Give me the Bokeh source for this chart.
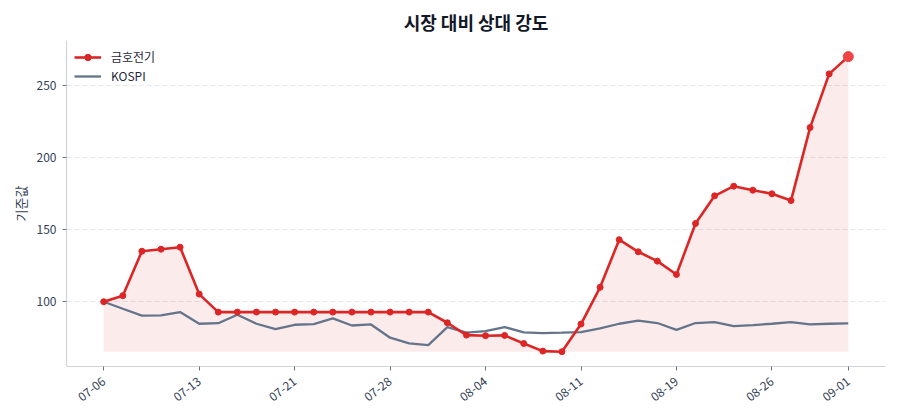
import math
from bokeh.plotting import figure
from bokeh.models import FixedTicker, Range1d, Legend, LegendItem, Title
from bokeh.embed import file_html
from bokeh.resources import INLINE

dates = ["07-06", "07-07", "07-08", "07-09", "07-10",
         "07-13", "07-14", "07-15", "07-16", "07-17",
         "07-21", "07-22", "07-23", "07-24", "07-27",
         "07-28", "07-29", "07-30", "07-31", "08-03",
         "08-04", "08-05", "08-06", "08-07", "08-10",
         "08-11", "08-12", "08-13", "08-14", "08-18",
         "08-19", "08-20", "08-21", "08-24", "08-25",
         "08-26", "08-27", "08-28", "08-31", "09-01"]

stock = [100.0, 104.2, 135.1, 136.5, 137.9, 105.3, 92.8, 92.8, 92.8, 92.8,
         92.8, 92.8, 92.8, 92.8, 92.8, 92.8, 92.8, 92.8, 85.4, 76.8,
         76.4, 76.6, 71.0, 65.7, 65.3, 84.5, 110.0, 143.1, 134.7, 128.2,
         118.9, 154.4, 173.6, 180.3, 177.5, 175.0, 170.3, 221.0, 258.3, 270.3]

kospi = [100.0, 95.1, 90.3, 90.5, 92.8, 84.7, 85.1, 91.0, 84.7, 81.0,
         84.0, 84.5, 88.4, 83.5, 84.2, 75.0, 71.0, 69.9, 82.4, 78.5,
         79.6, 82.4, 78.7, 78.2, 78.5, 78.9, 81.5, 84.7, 86.8, 85.2,
         80.5, 85.2, 85.9, 83.1, 83.8, 84.7, 85.9, 84.2, 84.7, 84.9]

stock_name = "금호전기"
index_name = "KOSPI"
title_text = "시장 대비 상대 강도"
y_label = "기준값"
y_ticks = [100, 150, 200, 250]
x_tick_idx = [0, 5, 10, 15, 20, 25, 30, 35, 39]

FONT = "Noto Sans CJK KR"
RED = "#dc2626"
SLATE = "#64748b"
TXT = "#334155"

x = list(range(len(stock)))
base = min(stock)

p = figure(width=900, height=420, output_backend="svg", toolbar_location=None,
           x_range=Range1d(-1.95, len(stock) - 1 + 1.95),
           y_range=Range1d(55.0, 281.5),
           min_border_left=66, min_border_right=15, min_border_top=40,
           min_border_bottom=54)
p.title = Title(text=title_text, align="center", text_font=FONT,
                text_font_size="18px", text_font_style="bold",
                text_color="#111827", standoff=12)
p.outline_line_color = None
p.background_fill_color = "white"
p.border_fill_color = "white"

p.varea(x=x, y1=[base] * len(x), y2=stock, fill_color=RED, fill_alpha=0.09)

r_k = p.line(x, kospi, line_color=SLATE, line_width=2.3)
r_s = p.line(x, stock, line_color=RED, line_width=2.6)
r_m = p.scatter(x, stock, size=6, fill_color=RED, line_color=RED)
p.scatter([x[-1]], [stock[-1]], size=10, fill_color="#ef4444", line_color="#ef4444")

legend = Legend(items=[LegendItem(label=stock_name, renderers=[r_s, r_m]),
                       LegendItem(label=index_name, renderers=[r_k])],
                location="top_left", border_line_color=None,
                background_fill_alpha=0.0, margin=8, padding=5,
                glyph_width=27, glyph_height=16, label_height=16,
                spacing=2, label_standoff=10,
                label_text_font=FONT, label_text_font_size="12px",
                label_text_color="#1f2937")
p.add_layout(legend)

# axes
for ax in (p.xaxis[0], p.yaxis[0]):
    ax.axis_line_color = "#d1d5db"
    ax.axis_line_width = 1.2
    ax.major_tick_line_color = "#64748b"
    ax.major_tick_out = 4
    ax.major_tick_in = 0
    ax.minor_tick_line_color = None
    ax.major_label_text_font = FONT
    ax.major_label_text_font_size = "12px"
    ax.major_label_text_color = TXT

p.yaxis.ticker = FixedTicker(ticks=y_ticks)
p.yaxis.major_label_standoff = 6
p.yaxis.axis_label = y_label
p.yaxis.axis_label_text_font = FONT
p.yaxis.axis_label_text_font_size = "13px"
p.yaxis.axis_label_text_font_style = "normal"
p.yaxis.axis_label_text_color = TXT
p.yaxis.axis_label_standoff = 4

p.xaxis.ticker = FixedTicker(ticks=x_tick_idx)
p.xaxis.major_label_overrides = {i: dates[i] for i in x_tick_idx}
p.xaxis.major_label_orientation = math.radians(38)
p.xaxis.major_label_standoff = 9
p.xaxis.major_label_text_font_size = "12px"

p.xgrid.grid_line_color = None
p.ygrid.ticker = FixedTicker(ticks=y_ticks)
p.ygrid.grid_line_color = "#e5e7eb"
p.ygrid.grid_line_dash = "5 3"
p.ygrid.grid_line_width = 1

open("out.html", "w").write(file_html(p, INLINE))
